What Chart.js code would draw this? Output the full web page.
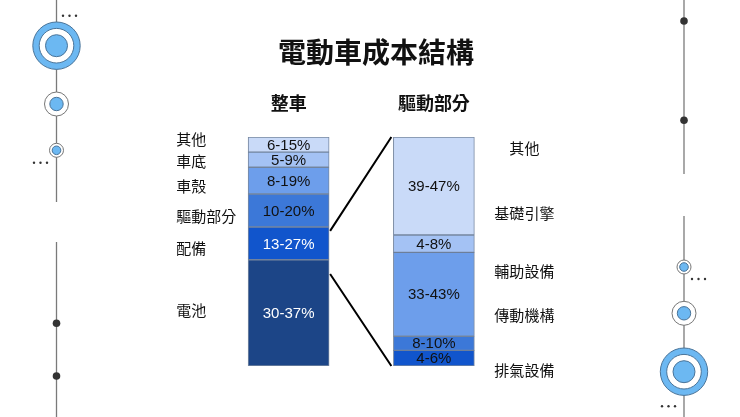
<!DOCTYPE html>
<html>
<head>
<meta charset="utf-8">
<script src="https://cdn.jsdelivr.net/npm/chart.js@4"></script>
<style>
  html, body { margin: 0; padding: 0; background: #fff; }
  #wrap { width: 740px; height: 417px; position: relative; }
</style>
</head>
<body>
<div id="wrap"><canvas id="costChart"></canvas></div>
<script>
(function () {
    "use strict";

    // data (bottom -> top)
    var title = "電動車成本結構";
    var categories = ["整車", "驅動部分"];

    var carParts = ["電池", "配備", "驅動部分", "車殼", "車底", "其他"];
    var carShares = [46.4, 14.3, 14.4, 11.7, 6.6, 6.6];
    var carRanges = ["30-37%", "13-27%", "10-20%", "8-19%", "5-9%", "6-15%"];

    var driveParts = ["排氣設備", "傳動機構", "輔助設備", "基礎引擎", "其他"];
    var driveShares = [6.8, 6.2, 36.6, 7.6, 42.8];
    var driveRanges = ["4-6%", "8-10%", "33-43%", "4-8%", "39-47%"];

    // styling
    var carColors = ["#1c4587", "#1155cc", "#3c78d8", "#6d9eeb", "#a4c2f4", "#c9daf8"];
    var carText = ["#ffffff", "#ffffff", "#111111", "#111111", "#111111", "#111111"];
    var driveColors = ["#1155cc", "#3c78d8", "#6d9eeb", "#a4c2f4", "#c9daf8"];
    var driveText = ["#111111", "#111111", "#111111", "#111111", "#111111"];

    // where the side names sit, in y-scale units (slide layout, not data)
    var carNameAt = [24.5, 51.5, 65.3, 78.4, 89.3, 98.8];
    var driveNameAt = [-1.7, 22.3, 41.2, 66.8, 95.2];
    var zoomFrom = [59, 40.2];

    var cjk = '"Noto Sans CJK TC", "Noto Sans CJK SC", sans-serif';
    var latin = '"Liberation Sans", Arial, sans-serif';

    var datasets = [];
    carShares.forEach(function (v, i) {
        datasets.push({
            label: carParts[i], data: [v, null], range: carRanges[i],
            textColor: carText[i], backgroundColor: carColors[i]
        });
    });
    driveShares.forEach(function (v, i) {
        datasets.push({
            label: driveParts[i], data: [null, v], range: driveRanges[i],
            textColor: driveText[i], backgroundColor: driveColors[i]
        });
    });
    datasets.forEach(function (d) {
        d.borderColor = "rgba(95,115,145,0.85)";
        d.borderWidth = 1;
        d.borderSkipped = false;
        d.barThickness = 81;
        d.stack = "s";
    });

    function ring(ctx, x, y, r, fill, stroke) {
        ctx.beginPath();
        ctx.arc(x, y, r, 0, Math.PI * 2);
        ctx.fillStyle = fill;
        ctx.fill();
        if (stroke) {
            ctx.lineWidth = 1;
            ctx.strokeStyle = stroke;
            ctx.stroke();
        }
    }

    function dots(ctx, x, y) {
        ctx.fillStyle = "#333";
        for (var k = 0; k < 3; k++) {
            ctx.beginPath();
            ctx.arc(x + k * 6.5, y, 1.2, 0, Math.PI * 2);
            ctx.fill();
        }
    }

    function bigTarget(ctx, x, y) {
        ring(ctx, x, y, 23.7, "#6cb8f2", "#4a7499");
        ring(ctx, x, y, 17.3, "#ffffff", "#4a7499");
        ring(ctx, x, y, 11, "#6cb8f2", "#4a7499");
    }
    function midTarget(ctx, x, y) {
        ring(ctx, x, y, 12, "#ffffff", "#777");
        ring(ctx, x, y, 6.7, "#6cb8f2", "#4a7499");
    }
    function smallTarget(ctx, x, y) {
        ring(ctx, x, y, 7, "#ffffff", "#777");
        ring(ctx, x, y, 4.3, "#6cb8f2", "#4a7499");
    }

    var decor = {
        id: "decor",
        beforeDraw: function (chart) {
            var ctx = chart.ctx;
            ctx.save();
            ctx.fillStyle = "#fff";
            ctx.fillRect(0, 0, chart.width, chart.height);
            ctx.strokeStyle = "#7a7a7a";
            ctx.lineWidth = 1.3;
            [[56.5, 0, 202], [56.5, 242, 417], [684, 0, 174], [684, 216, 417]].forEach(function (s) {
                ctx.beginPath();
                ctx.moveTo(s[0], s[1]);
                ctx.lineTo(s[0], s[2]);
                ctx.stroke();
            });
            bigTarget(ctx, 56.5, 45.7);
            midTarget(ctx, 56.5, 104);
            smallTarget(ctx, 56.5, 150.3);
            dots(ctx, 63, 15.7);
            dots(ctx, 34, 162.7);
            ring(ctx, 56.5, 323.3, 3.8, "#333");
            ring(ctx, 56.5, 376, 3.8, "#333");

            ring(ctx, 684, 21, 3.8, "#333");
            ring(ctx, 684, 120.3, 3.8, "#333");
            smallTarget(ctx, 684, 267);
            midTarget(ctx, 684, 313.3);
            bigTarget(ctx, 684, 371.7);
            dots(ctx, 692, 279);
            dots(ctx, 662, 406.3);
            ctx.restore();
        },
        afterDatasetsDraw: function (chart) {
            var ctx = chart.ctx;
            var xs = chart.scales.x, ys = chart.scales.y;
            ctx.save();

            // title
            ctx.fillStyle = "#111";
            ctx.textAlign = "center";
            ctx.textBaseline = "middle";
            ctx.font = "bold 28px " + cjk;
            ctx.fillText(title, 376, 52);

            // column headers
            ctx.font = "bold 18px " + cjk;
            categories.forEach(function (c, i) {
                ctx.fillText(c, xs.getPixelForValue(i), chart.chartArea.top - 34);
            });

            // range text inside segments
            ctx.font = "15px " + latin;
            chart.data.datasets.forEach(function (d, di) {
                var meta = chart.getDatasetMeta(di);
                meta.data.forEach(function (bar, j) {
                    if (d.data[j] == null) return;
                    ctx.fillStyle = d.textColor;
                    ctx.fillText(d.range, bar.x, (bar.y + bar.base) / 2 + 1);
                });
            });

            // side names
            var leftBar = chart.getDatasetMeta(0).data[0];
            var rightBar = chart.getDatasetMeta(carParts.length).data[1];
            var leftEdge = leftBar.x - leftBar.width / 2;
            var rightEdge = rightBar.x + rightBar.width / 2;
            ctx.font = "15px " + cjk;
            ctx.fillStyle = "#111";
            ctx.textAlign = "left";
            carParts.forEach(function (n, i) {
                ctx.fillText(n, leftEdge - 72, ys.getPixelForValue(carNameAt[i]));
            });
            ctx.textAlign = "center";
            driveParts.forEach(function (n, i) {
                ctx.fillText(n, rightEdge + 50, ys.getPixelForValue(driveNameAt[i]));
            });

            // zoom lines
            var fromX = leftBar.x + leftBar.width / 2 + 1;
            var toX = rightBar.x - rightBar.width / 2 - 2;
            ctx.strokeStyle = "#000";
            ctx.lineWidth = 2;
            ctx.beginPath();
            ctx.moveTo(fromX, ys.getPixelForValue(zoomFrom[0]));
            ctx.lineTo(toX, ys.getPixelForValue(100));
            ctx.moveTo(fromX, ys.getPixelForValue(zoomFrom[1]));
            ctx.lineTo(toX, ys.getPixelForValue(0));
            ctx.stroke();
            ctx.restore();
        }
    };

    var ctx = document.getElementById("costChart");
    new Chart(ctx, {
        type: "bar",
        data: { labels: categories, datasets: datasets },
        options: {
            responsive: true,
            maintainAspectRatio: false,
            animation: false,
            devicePixelRatio: 1,
            layout: { padding: { left: 216, right: 233.5, top: 137, bottom: 51 } },
            plugins: {
                legend: { display: false },
                tooltip: { enabled: false },
                title: { display: false }
            },
            scales: {
                x: { display: false, stacked: true },
                y: { display: false, stacked: true, min: 0, max: 100 }
            }
        },
        plugins: [decor]
    });
})();
</script>
</body>
</html>
